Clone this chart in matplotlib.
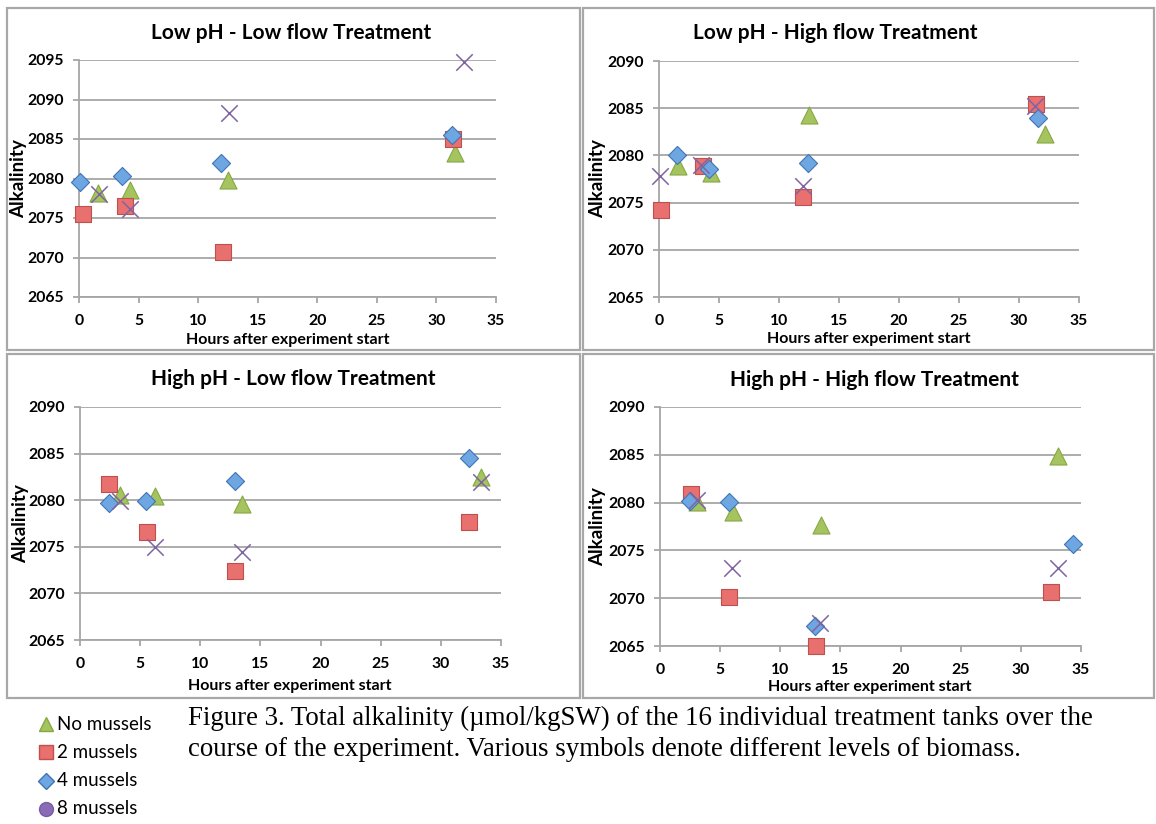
import matplotlib
matplotlib.use("Agg")
import matplotlib.pyplot as plt
from matplotlib.patches import Rectangle
from matplotlib.lines import Line2D

W, H = 1156, 824
FONT = "Lato"
plt.rcParams["font.family"] = [FONT, "DejaVu Sans"]
plt.rcParams["font.weight"] = "bold"
plt.rcParams["axes.labelweight"] = "bold"

titles = ["Low pH - Low flow Treatment", "Low pH - High flow Treatment",
          "High pH - Low flow Treatment", "High pH - High flow Treatment"]
series_names = ["No mussels", "2 mussels", "4 mussels", "8 mussels"]

# panel 1: Low pH - Low flow
p1_none_x = [1.6, 4.3, 12.5, 31.6]
p1_none_y = [2078.2, 2078.5, 2079.8, 2083.2]
p1_two_x = [0.3, 3.9, 12.1, 31.4]
p1_two_y = [2075.5, 2076.5, 2070.7, 2085.0]
p1_four_x = [0.1, 3.6, 11.9, 31.3]
p1_four_y = [2079.6, 2080.3, 2082.0, 2085.5]
p1_eight_x = [1.7, 4.3, 12.6, 32.3]
p1_eight_y = [2078.1, 2076.2, 2088.3, 2094.8]

# panel 2: Low pH - High flow
p2_none_x = [1.6, 4.3, 12.5, 32.2]
p2_none_y = [2078.9, 2078.1, 2084.3, 2082.3]
p2_two_x = [0.2, 3.7, 12.0, 31.4]
p2_two_y = [2074.2, 2078.9, 2075.6, 2085.4]
p2_four_x = [1.5, 4.2, 12.4, 31.6]
p2_four_y = [2080.0, 2078.6, 2079.2, 2084.0]
p2_eight_x = [0.1, 3.5, 12.0, 31.3]
p2_eight_y = [2077.8, 2079.0, 2076.8, 2085.2]

# panel 3: High pH - Low flow
p3_none_x = [3.3, 6.2, 13.5, 33.3]
p3_none_y = [2080.6, 2080.4, 2079.6, 2082.5]
p3_two_x = [2.4, 5.6, 12.9, 32.3]
p3_two_y = [2081.7, 2076.6, 2072.4, 2077.7]
p3_four_x = [2.4, 5.5, 12.9, 32.3]
p3_four_y = [2079.7, 2079.9, 2082.1, 2084.5]
p3_eight_x = [3.3, 6.2, 13.5, 33.3]
p3_eight_y = [2079.9, 2075.0, 2074.4, 2081.9]

# panel 4: High pH - High flow
p4_none_x = [3.1, 6.1, 13.4, 33.1]
p4_none_y = [2080.1, 2079.0, 2077.7, 2084.9]
p4_two_x = [2.6, 5.7, 13.0, 32.5]
p4_two_y = [2080.9, 2070.1, 2065.0, 2070.6]
p4_four_x = [2.5, 5.7, 12.9, 34.3]
p4_four_y = [2080.2, 2080.1, 2067.1, 2075.7]
p4_eight_x = [3.1, 6.0, 13.3, 33.1]
p4_eight_y = [2080.3, 2073.2, 2067.4, 2073.2]

panels = [
    [(p1_none_x, p1_none_y), (p1_two_x, p1_two_y), (p1_four_x, p1_four_y), (p1_eight_x, p1_eight_y)],
    [(p2_none_x, p2_none_y), (p2_two_x, p2_two_y), (p2_four_x, p2_four_y), (p2_eight_x, p2_eight_y)],
    [(p3_none_x, p3_none_y), (p3_two_x, p3_two_y), (p3_four_x, p3_four_y), (p3_eight_x, p3_eight_y)],
    [(p4_none_x, p4_none_y), (p4_two_x, p4_two_y), (p4_four_x, p4_four_y), (p4_eight_x, p4_eight_y)],
]
y_tops = [2095, 2090, 2090, 2090]
x_ticks = [0, 5, 10, 15, 20, 25, 30, 35]

green_f, green_e = "#a5c45f", "#86a842"
red_f, red_e = "#e8706e", "#c0504d"
blue_f, blue_e = "#6ea6e2", "#3f74b5"
purple = "#8064a2"

styles = [
    dict(marker="^", s=150, c=green_f, edgecolors=green_e, linewidths=0.8, zorder=3),
    dict(marker="s", s=125, c=red_f, edgecolors=red_e, linewidths=0.8, zorder=4),
    dict(marker="D", s=85, c=blue_f, edgecolors=blue_e, linewidths=0.8, zorder=5),
    dict(marker="x", s=140, c=purple, linewidths=1.1, zorder=6),
]

fig = plt.figure(figsize=(W / 100, H / 100), dpi=100)

def px_axes(x0, y0, x1, y1):
    return fig.add_axes([x0 / W, 1 - y1 / H, (x1 - x0) / W, (y1 - y0) / H])

# panel frames (pixels: x0, y0, x1, y1)
frames = [(7, 8, 580, 350), (583, 8, 1154, 350), (7, 354, 580, 698), (583, 354, 1154, 698)]
for (fx0, fy0, fx1, fy1) in frames:
    fig.add_artist(Rectangle((fx0 / W, 1 - fy1 / H), (fx1 - fx0) / W, (fy1 - fy0) / H,
                             transform=fig.transFigure, fill=False,
                             edgecolor="#a8a8a8", linewidth=1.6))

axes_px = [(79, 60, 496, 297), (659, 61, 1079, 297), (80, 407, 501, 640), (660, 407, 1081, 646)]
title_pos = [(291, 33), (835, 33), (293, 379), (874, 380)]
xlabel_pos = [(288, 340), (869, 339), (290, 686), (870, 687)]
ylabel_x = [-0.124, -0.126, -0.121, -0.128]

for i, (ax_px, data) in enumerate(zip(axes_px, panels)):
    ax = px_axes(*ax_px)
    for (xs, ys), st in zip(data, styles):
        ax.scatter(xs, ys, clip_on=False, **st)
    ax.set_xlim(0, 35)
    ax.set_ylim(2065, y_tops[i])
    ax.set_xticks(x_ticks)
    ax.set_xticklabels([str(t) for t in x_ticks], fontweight="bold")
    yt = list(range(2065, y_tops[i] + 1, 5))
    ax.set_yticks(yt)
    ax.set_yticklabels([str(t) for t in yt], fontweight="bold")
    ax.yaxis.grid(True, color="#a6a6a6", linewidth=1.3)
    ax.set_axisbelow(True)
    for sp in ["top", "right"]:
        ax.spines[sp].set_visible(False)
    for sp in ["left", "bottom"]:
        ax.spines[sp].set_color("#a6a6a6")
        ax.spines[sp].set_linewidth(1.3)
    ax.tick_params(axis="both", color="#a6a6a6", width=1.3, length=4, labelsize=11.3)
    ax.tick_params(axis="x", pad=8)
    ax.tick_params(axis="y", pad=7)
    ax.set_ylabel("Alkalinity", fontsize=13.5, fontweight="bold")
    ax.yaxis.set_label_coords(ylabel_x[i], 0.5)
    fig.text(xlabel_pos[i][0] / W, 1 - xlabel_pos[i][1] / H,
             "Hours after experiment start", ha="center", va="center",
             fontsize=11.5, fontweight="bold")
    fig.text(title_pos[i][0] / W, 1 - title_pos[i][1] / H, titles[i],
             ha="center", va="center", fontsize=15, fontweight="bold")

# legend
leg_markers = ["^", "s", "D", "o"]
leg_colors = [(green_f, green_e), (red_f, red_e), (blue_f, blue_e), ("#8a6bb5", "#7a5ba5")]
leg_y = [724, 752, 781, 809]
for name, mk, (fc, ec), ly in zip(series_names, leg_markers, leg_colors, leg_y):
    fig.add_artist(Line2D([46 / W], [1 - ly / H], marker=mk, markersize=10 if mk != "D" else 8,
                          markerfacecolor=fc, markeredgecolor=ec, linestyle="none",
                          transform=fig.transFigure))
    fig.text(57 / W, 1 - ly / H, name, ha="left", va="center", fontsize=13.5, fontweight="normal")

caption1 = "Figure 3. Total alkalinity (\u00b5mol/kgSW) of the 16 individual treatment tanks over the"
caption2 = "course of the experiment. Various symbols denote different levels of biomass."
fig.text(188 / W, 1 - 718 / H, caption1, ha="left", va="center", fontsize=19.4,
         family="Liberation Serif", fontweight="normal")
fig.text(188 / W, 1 - 749 / H, caption2, ha="left", va="center", fontsize=19.4,
         family="Liberation Serif", fontweight="normal")

fig.savefig("out.png", dpi=100)
